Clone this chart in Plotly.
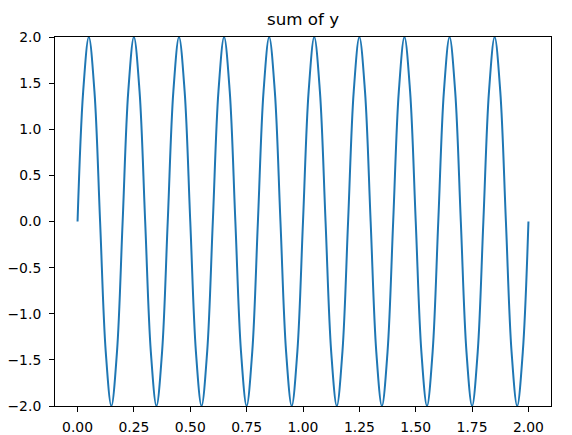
import plotly.graph_objects as go

# sample points (every 0.025 on x)
t = [
    0.000, 0.025, 0.050, 0.075, 0.100, 0.125, 0.150, 0.175,
    0.200, 0.225, 0.250, 0.275, 0.300, 0.325, 0.350, 0.375,
    0.400, 0.425, 0.450, 0.475, 0.500, 0.525, 0.550, 0.575,
    0.600, 0.625, 0.650, 0.675, 0.700, 0.725, 0.750, 0.775,
    0.800, 0.825, 0.850, 0.875, 0.900, 0.925, 0.950, 0.975,
    1.000, 1.025, 1.050, 1.075, 1.100, 1.125, 1.150, 1.175,
    1.200, 1.225, 1.250, 1.275, 1.300, 1.325, 1.350, 1.375,
    1.400, 1.425, 1.450, 1.475, 1.500, 1.525, 1.550, 1.575,
    1.600, 1.625, 1.650, 1.675, 1.700, 1.725, 1.750, 1.775,
    1.800, 1.825, 1.850, 1.875, 1.900, 1.925, 1.950, 1.975,
    2.000,
]
y_sum = [
    0.00, 1.41, 2.00, 1.41, 0.00, -1.41, -2.00, -1.41,
    0.00, 1.41, 2.00, 1.41, 0.00, -1.41, -2.00, -1.41,
    0.00, 1.41, 2.00, 1.41, 0.00, -1.41, -2.00, -1.41,
    0.00, 1.41, 2.00, 1.41, 0.00, -1.41, -2.00, -1.41,
    0.00, 1.41, 2.00, 1.41, 0.00, -1.41, -2.00, -1.41,
    0.00, 1.41, 2.00, 1.41, 0.00, -1.41, -2.00, -1.41,
    0.00, 1.41, 2.00, 1.41, 0.00, -1.41, -2.00, -1.41,
    0.00, 1.41, 2.00, 1.41, 0.00, -1.41, -2.00, -1.41,
    0.00, 1.41, 2.00, 1.41, 0.00, -1.41, -2.00, -1.41,
    0.00, 1.41, 2.00, 1.41, 0.00, -1.41, -2.00, -1.41,
    0.00,
]

fig = go.Figure(go.Scatter(
    x=t, y=y_sum, mode='lines',
    line=dict(color='#1f77b4', width=2, shape='spline', smoothing=1.0),
))

axis_style = dict(
    showline=True, linecolor='black', linewidth=1, mirror=True,
    ticks='outside', ticklen=5, tickwidth=1, tickcolor='black',
    automargin=False,
    showgrid=False, zeroline=False,
    tickfont=dict(family='DejaVu Sans', size=13.9, color='black'),
)

fig.update_layout(
    width=572, height=435,
    margin=dict(l=55, r=21, t=37, b=29),
    paper_bgcolor='white', plot_bgcolor='white',
    showlegend=False,
    title=dict(text='sum of y', x=0.5, xref='paper', xanchor='center',
               y=1 - 19 / 435, yref='container', yanchor='middle',
               font=dict(family='DejaVu Sans', size=16.7, color='black')),
)
fig.update_xaxes(range=[-0.1, 2.1], tickvals=[0, 0.25, 0.5, 0.75, 1.0, 1.25, 1.5, 1.75, 2.0],
                 tickformat='.2f', ticklabelstandoff=3, **axis_style)
fig.update_yaxes(range=[-2, 2], dtick=0.5, tickformat='.1f', ticklabelstandoff=5, **axis_style)

# drop the default page margin so the figure sits at the window's corner
fig.write_html("out.html", config={'displayModeBar': False},
               post_script="document.body.style.margin='0';")
